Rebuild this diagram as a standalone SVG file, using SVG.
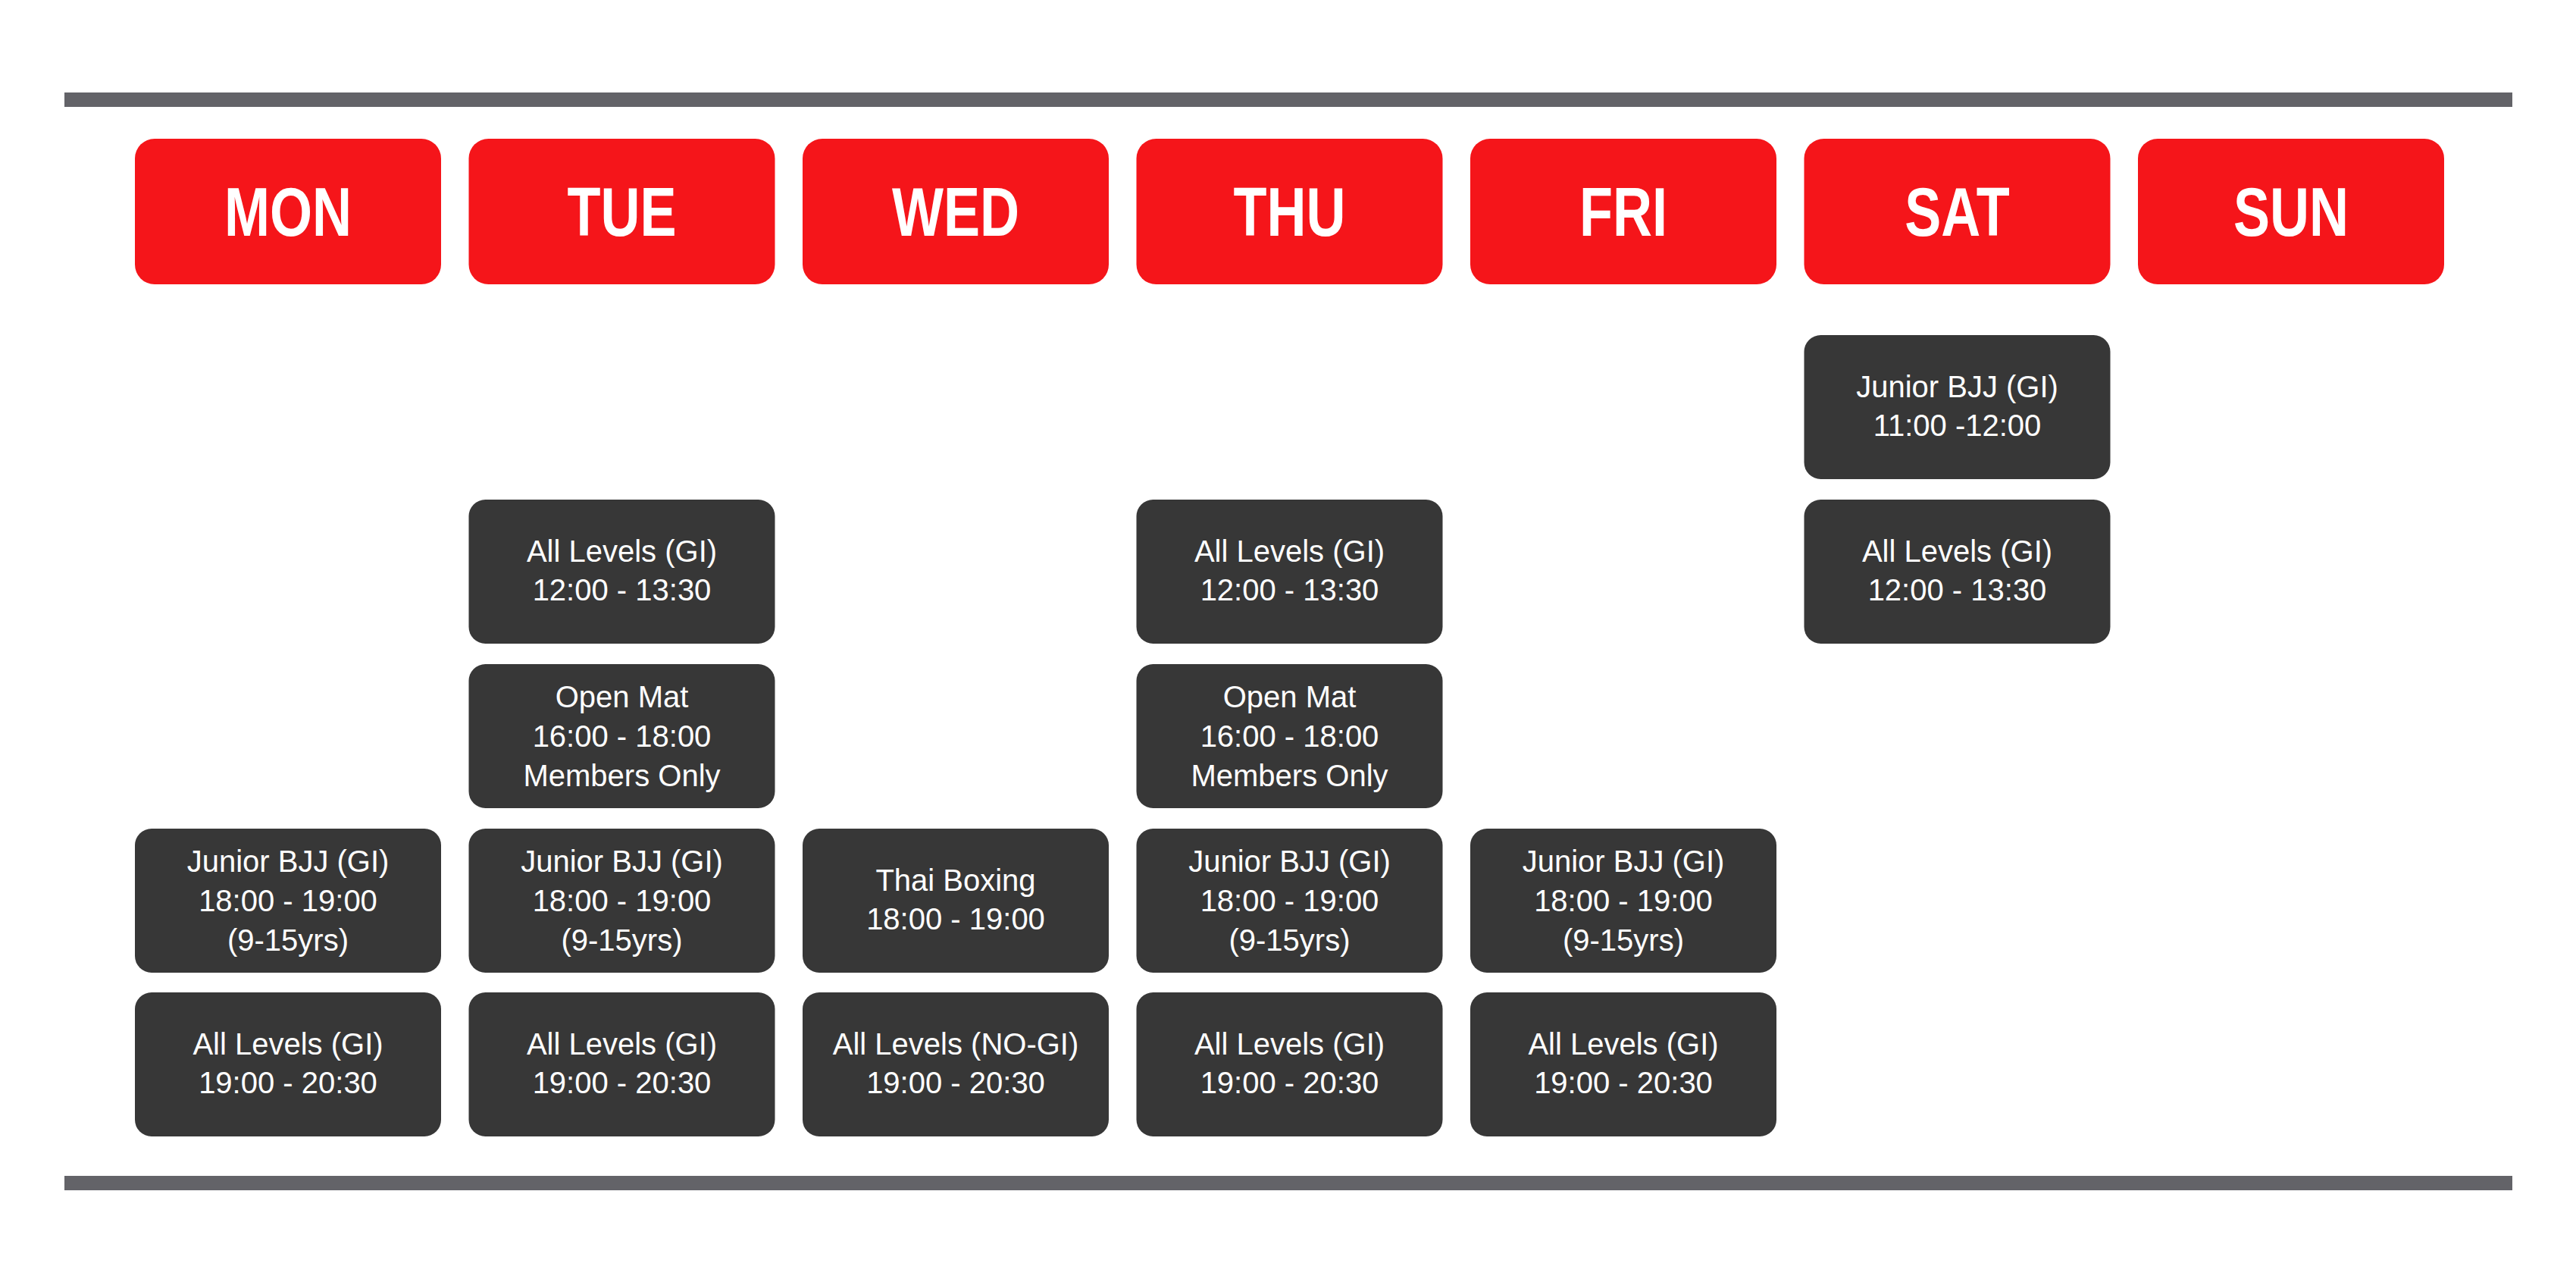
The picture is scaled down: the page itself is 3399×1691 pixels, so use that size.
<svg xmlns="http://www.w3.org/2000/svg" width="3399" height="1691" viewBox="0 0 3399 1691">
<style>
.bar{fill:#636368}
.hd{fill:#F5151A}
.cl{fill:#373737}
.ht{font-family:"Liberation Sans Narrow","Liberation Sans",sans-serif;font-weight:bold;font-size:90px;fill:#fff;text-anchor:middle}
.ct{font-family:"Liberation Sans Narrow","Liberation Sans",sans-serif;font-size:40px;fill:#fff;text-anchor:middle}
</style>
<rect width="3399" height="1691" fill="#fff"/>
<rect class="bar" x="85" y="122" width="3230" height="19"/>
<rect class="bar" x="85" y="1551" width="3230" height="19"/>
<g id="headers">
<g id="h-mon"><rect class="hd" x="178" y="183" width="404" height="192" rx="26"/><text class="ht" transform="translate(380,311) scale(0.8,1)">MON</text></g>
<g id="h-tue"><rect class="hd" x="618.5" y="183" width="404" height="192" rx="26"/><text class="ht" transform="translate(820.5,311) scale(0.8,1)">TUE</text></g>
<g id="h-wed"><rect class="hd" x="1059" y="183" width="404" height="192" rx="26"/><text class="ht" transform="translate(1261,311) scale(0.8,1)">WED</text></g>
<g id="h-thu"><rect class="hd" x="1499.5" y="183" width="404" height="192" rx="26"/><text class="ht" transform="translate(1701.5,311) scale(0.8,1)">THU</text></g>
<g id="h-fri"><rect class="hd" x="1940" y="183" width="404" height="192" rx="26"/><text class="ht" transform="translate(2142,311) scale(0.8,1)">FRI</text></g>
<g id="h-sat"><rect class="hd" x="2380.5" y="183" width="404" height="192" rx="26"/><text class="ht" transform="translate(2582.5,311) scale(0.8,1)">SAT</text></g>
<g id="h-sun"><rect class="hd" x="2821" y="183" width="404" height="192" rx="26"/><text class="ht" transform="translate(3023,311) scale(0.8,1)">SUN</text></g>
</g>
<g id="classes">
<g id="sat-jr"><rect class="cl" x="2380.5" y="442" width="404" height="190" rx="22"/><text class="ct" x="2582.5" y="524">Junior BJJ (GI)</text><text class="ct" x="2582.5" y="575">11:00 -12:00</text></g>
<g id="tue-al12"><rect class="cl" x="618.5" y="659" width="404" height="190" rx="22"/><text class="ct" x="820.5" y="741">All Levels (GI)</text><text class="ct" x="820.5" y="792">12:00 - 13:30</text></g>
<g id="thu-al12"><rect class="cl" x="1499.5" y="659" width="404" height="190" rx="22"/><text class="ct" x="1701.5" y="741">All Levels (GI)</text><text class="ct" x="1701.5" y="792">12:00 - 13:30</text></g>
<g id="sat-al12"><rect class="cl" x="2380.5" y="659" width="404" height="190" rx="22"/><text class="ct" x="2582.5" y="741">All Levels (GI)</text><text class="ct" x="2582.5" y="792">12:00 - 13:30</text></g>
<g id="tue-om"><rect class="cl" x="618.5" y="876" width="404" height="190" rx="22"/><text class="ct" x="820.5" y="933">Open Mat</text><text class="ct" x="820.5" y="985">16:00 - 18:00</text><text class="ct" x="820.5" y="1037">Members Only</text></g>
<g id="thu-om"><rect class="cl" x="1499.5" y="876" width="404" height="190" rx="22"/><text class="ct" x="1701.5" y="933">Open Mat</text><text class="ct" x="1701.5" y="985">16:00 - 18:00</text><text class="ct" x="1701.5" y="1037">Members Only</text></g>
<g id="mon-jr"><rect class="cl" x="178" y="1093" width="404" height="190" rx="22"/><text class="ct" x="380" y="1150">Junior BJJ (GI)</text><text class="ct" x="380" y="1202">18:00 - 19:00</text><text class="ct" x="380" y="1254">(9-15yrs)</text></g>
<g id="tue-jr"><rect class="cl" x="618.5" y="1093" width="404" height="190" rx="22"/><text class="ct" x="820.5" y="1150">Junior BJJ (GI)</text><text class="ct" x="820.5" y="1202">18:00 - 19:00</text><text class="ct" x="820.5" y="1254">(9-15yrs)</text></g>
<g id="wed-tb"><rect class="cl" x="1059" y="1093" width="404" height="190" rx="22"/><text class="ct" x="1261" y="1175">Thai Boxing</text><text class="ct" x="1261" y="1226">18:00 - 19:00</text></g>
<g id="thu-jr"><rect class="cl" x="1499.5" y="1093" width="404" height="190" rx="22"/><text class="ct" x="1701.5" y="1150">Junior BJJ (GI)</text><text class="ct" x="1701.5" y="1202">18:00 - 19:00</text><text class="ct" x="1701.5" y="1254">(9-15yrs)</text></g>
<g id="fri-jr"><rect class="cl" x="1940" y="1093" width="404" height="190" rx="22"/><text class="ct" x="2142" y="1150">Junior BJJ (GI)</text><text class="ct" x="2142" y="1202">18:00 - 19:00</text><text class="ct" x="2142" y="1254">(9-15yrs)</text></g>
<g id="mon-al"><rect class="cl" x="178" y="1309" width="404" height="190" rx="22"/><text class="ct" x="380" y="1391">All Levels (GI)</text><text class="ct" x="380" y="1442">19:00 - 20:30</text></g>
<g id="tue-al"><rect class="cl" x="618.5" y="1309" width="404" height="190" rx="22"/><text class="ct" x="820.5" y="1391">All Levels (GI)</text><text class="ct" x="820.5" y="1442">19:00 - 20:30</text></g>
<g id="wed-al"><rect class="cl" x="1059" y="1309" width="404" height="190" rx="22"/><text class="ct" x="1261" y="1391">All Levels (NO-GI)</text><text class="ct" x="1261" y="1442">19:00 - 20:30</text></g>
<g id="thu-al"><rect class="cl" x="1499.5" y="1309" width="404" height="190" rx="22"/><text class="ct" x="1701.5" y="1391">All Levels (GI)</text><text class="ct" x="1701.5" y="1442">19:00 - 20:30</text></g>
<g id="fri-al"><rect class="cl" x="1940" y="1309" width="404" height="190" rx="22"/><text class="ct" x="2142" y="1391">All Levels (GI)</text><text class="ct" x="2142" y="1442">19:00 - 20:30</text></g>
</g>
<g id="connectors"/>
</svg>
